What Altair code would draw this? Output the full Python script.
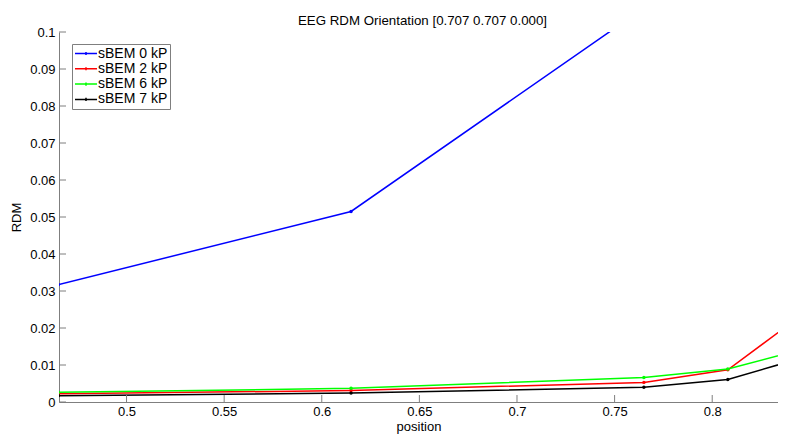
import altair as alt
import pandas as pd

series = ["sBEM 0 kP", "sBEM 2 kP", "sBEM 6 kP", "sBEM 7 kP"]
colors = ["#0000ff", "#ff0000", "#00ff00", "#000000"]
positions = [0.465, 0.615, 0.765, 0.808, 0.84]
rdm_0 = [0.0317, 0.0515, 0.1065, 0.125, 0.14]
rdm_2 = [0.0022, 0.0031, 0.0053, 0.0087, 0.0212]
rdm_6 = [0.0026, 0.0037, 0.0066, 0.0089, 0.0134]
rdm_7 = [0.0017, 0.0024, 0.0040, 0.0061, 0.0110]
x_ticks = [0.5, 0.55, 0.6, 0.65, 0.7, 0.75, 0.8]
y_ticks = [0, 0.01, 0.02, 0.03, 0.04, 0.05, 0.06, 0.07, 0.08, 0.09, 0.1]

rows = []
for name, vals in zip(series, [rdm_0, rdm_2, rdm_6, rdm_7]):
    for p, v in zip(positions, vals):
        rows.append({"series": name, "position": p, "RDM": v})
df = pd.DataFrame(rows)

W, H = 719, 370
xdom = [0.4654, 0.8337]
ydom = [0, 0.1]
GRAY = "#7f7f7f"
FONT = "Liberation Sans"

xscale = alt.Scale(domain=xdom, nice=False, zero=False)
yscale = alt.Scale(domain=ydom, nice=False)
xaxis = alt.Axis(values=x_ticks, labelExpr="format(datum.value, '~g')",
                 ticks=False, grid=False, title="position",
                 titlePadding=2, labelPadding=3)
yaxis = alt.Axis(values=y_ticks, labelExpr="format(datum.value, '~g')",
                 ticks=False, grid=False, title="RDM",
                 titlePadding=6, labelPadding=4)

lines = alt.Chart(df).mark_line(
    strokeWidth=1.5, clip=True,
    point=alt.OverlayMarkDef(size=12, filled=True, clip=True),
).encode(
    x=alt.X("position:Q", scale=xscale, axis=xaxis),
    y=alt.Y("RDM:Q", scale=yscale, axis=yaxis),
    color=alt.Color("series:N", scale=alt.Scale(domain=series, range=colors),
                    legend=alt.Legend(title=None, orient="none", legendX=13, legendY=12,
                                      symbolType="M-1.04,0H2.48M0.72,-0.25V0.25",
                                      symbolSize=156,
                                      symbolStrokeWidth=1.5, strokeColor=GRAY,
                                      fillColor="white", padding=2.5, rowPadding=1.3,
                                      labelFontSize=14, labelFont=FONT,
                                      labelColor="black", labelOffset=9.5)),
    order=alt.Order("position:Q"),
)

ytick_df = pd.DataFrame({"RDM": y_ticks})
xtick_df = pd.DataFrame({"position": x_ticks})

yt = alt.Chart(ytick_df).mark_rule(color=GRAY, strokeWidth=1).encode(
    y=alt.Y("RDM:Q", scale=yscale, axis=yaxis),
    x=alt.value(0), x2=alt.value(7),
)
xt = alt.Chart(xtick_df).mark_rule(color=GRAY, strokeWidth=1).encode(
    x=alt.X("position:Q", scale=xscale, axis=xaxis),
    y=alt.value(H), y2=alt.value(H - 7),
)

chart = alt.layer(lines, yt, xt).properties(
    width=W, height=H,
    title=alt.Title("EEG RDM Orientation [0.707 0.707 0.000]", fontSize=13.3,
                    font=FONT, fontWeight="normal", color="black", offset=-1, dx=4),
    autosize=alt.AutoSizeParams(type="none"),
    padding={"left": 51, "top": 24, "right": 0, "bottom": 35},
).configure_view(stroke=None).configure_axis(
    domainColor=GRAY, domainWidth=1, labelFont=FONT, labelFontSize=13,
    labelColor="black", titleFont=FONT, titleFontSize=13, titleFontWeight="normal",
    titleColor="black",
)

chart.save("out.html", embed_options={"renderer": "svg", "actions": False})
